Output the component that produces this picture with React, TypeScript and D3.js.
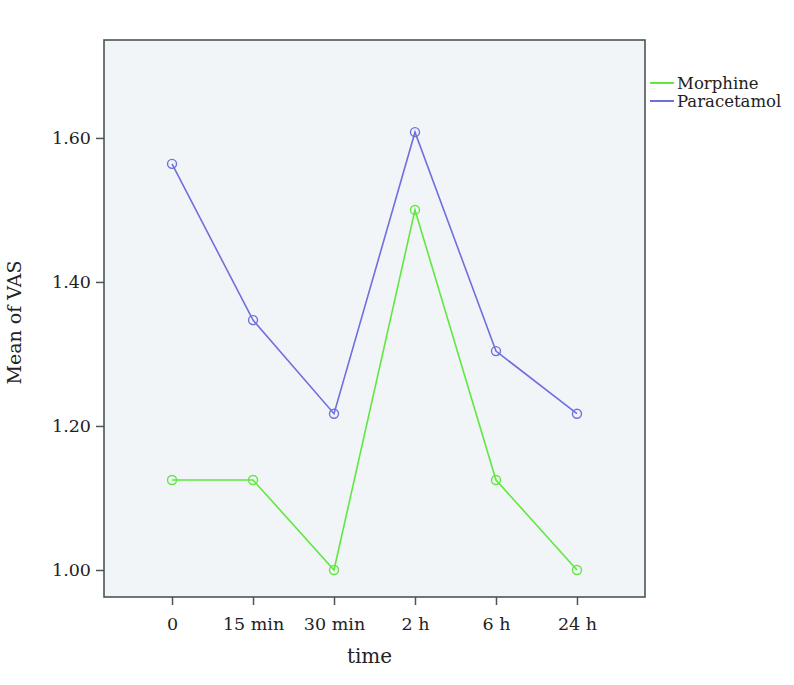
import React, { useEffect, useRef } from 'react';
import * as d3 from 'd3';

const times = ['0', '15 min', '30 min', '2 h', '6 h', '24 h'];
const morphine = [1.125, 1.125, 1.0, 1.5, 1.125, 1.0];
const paracetamol = [1.564, 1.347, 1.217, 1.608, 1.304, 1.217];
const yTicks = [1.0, 1.2, 1.4, 1.6];

const series = [
    { name: 'Morphine', values: morphine, color: '#5fe83f' },
    { name: 'Paracetamol', values: paracetamol, color: '#6f6fde' },
];

const App = () => {
    const svgRef = useRef(null);

    useEffect(() => {
        const svg = d3.select(svgRef.current);
        svg.selectAll('*').remove();

        const left = 104, right = 645, top = 40, bottom = 597;
        const font = '"DejaVu Serif", "Liberation Serif", serif';

        const x = d3.scalePoint().domain(times).range([left, right]).padding(0.84);
        const y = d3.scaleLinear().domain([0.9625, 1.736]).range([bottom, top]);

        // plot area
        svg.append('rect')
            .attr('x', left).attr('y', top)
            .attr('width', right - left).attr('height', bottom - top)
            .attr('fill', '#f2f5f7')
            .attr('stroke', '#4a5656')
            .attr('stroke-width', 1.6);

        // y axis
        const yAxis = svg.append('g')
            .attr('transform', `translate(${left},0)`)
            .call(d3.axisLeft(y).tickValues(yTicks).tickFormat(d3.format('.2f')).tickSize(8).tickPadding(5));
        yAxis.select('.domain').remove();
        yAxis.selectAll('line').attr('stroke', '#4a5656').attr('stroke-width', 1.5);
        yAxis.selectAll('text').style('font-family', font).style('font-size', '17.5px').attr('fill', '#222');

        // x axis
        const xAxis = svg.append('g')
            .attr('transform', `translate(0,${bottom})`)
            .call(d3.axisBottom(x).tickSize(8).tickPadding(13));
        xAxis.select('.domain').remove();
        xAxis.selectAll('line').attr('stroke', '#4a5656').attr('stroke-width', 1.5);
        xAxis.selectAll('text').style('font-family', font).style('font-size', '17.5px').attr('fill', '#222');

        // axis titles
        svg.append('text')
            .attr('x', (x('2 h') + x('30 min')) / 2 - 5)
            .attr('y', 663)
            .attr('text-anchor', 'middle')
            .style('font-family', font).style('font-size', '20px')
            .attr('fill', '#222')
            .text('time');

        svg.append('text')
            .attr('transform', `translate(21,${(top + bottom) / 2 + 4}) rotate(-90)`)
            .attr('text-anchor', 'middle')
            .style('font-family', font).style('font-size', '19px')
            .attr('fill', '#222')
            .text('Mean of VAS');

        // lines and markers
        const line = d3.line().x((d, i) => x(times[i])).y(d => y(d));

        series.forEach(s => {
            svg.append('path')
                .datum(s.values)
                .attr('d', line)
                .attr('fill', 'none')
                .attr('stroke', s.color)
                .attr('stroke-width', 1.6);

            svg.append('g').selectAll('circle')
                .data(s.values)
                .enter()
                .append('circle')
                .attr('cx', (d, i) => x(times[i]))
                .attr('cy', d => y(d))
                .attr('r', 4.5)
                .attr('fill', 'none')
                .attr('stroke', s.color)
                .attr('stroke-width', 1.4);
        });

        // legend
        const legend = svg.append('g').attr('transform', 'translate(650,83)');
        series.forEach((s, i) => {
            legend.append('line')
                .attr('x1', 0).attr('x2', 24)
                .attr('y1', i * 18).attr('y2', i * 18)
                .attr('stroke', s.color).attr('stroke-width', 2);
            legend.append('text')
                .attr('x', 27).attr('y', i * 18 + 6)
                .style('font-family', font).style('font-size', '16.5px')
                .attr('fill', '#222')
                .text(s.name);
        });
    }, []);

    return (
        <svg ref={svgRef} width={794} height={685} style={{ position: 'absolute', left: 0, top: 0, background: '#fff' }}></svg>
    );
};

export default App;
